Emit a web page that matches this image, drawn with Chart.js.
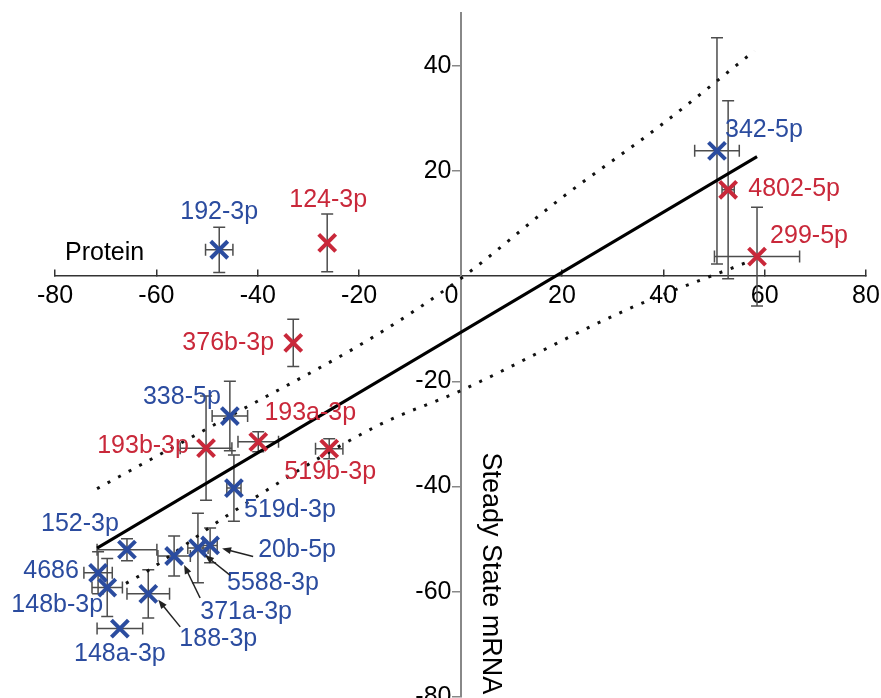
<!DOCTYPE html>
<html>
<head>
<meta charset="utf-8">
<script src="https://cdn.jsdelivr.net/npm/chart.js@4.4.0/dist/chart.umd.min.js"></script>
<style>
  html, body { margin: 0; padding: 0; background: #fff; }
</style>
</head>
<body>
<canvas id="chart" width="881" height="698"></canvas>
<script>
// axis ticks
const xTicks = [-80, -60, -40, -20, 0, 20, 40, 60, 80];
const yTicks = [-80, -60, -40, -20, 20, 40];

// blue miRNAs
const blueLabels = ["192-3p", "342-5p", "338-5p", "519d-3p", "152-3p", "4686", "148b-3p", "148a-3p", "188-3p", "371a-3p", "5588-3p", "20b-5p"];
const blueMrna = [-47.6, 50.6, -45.5, -44.7, -65.8, -71.5, -69.7, -67.2, -61.6, -56.5, -51.8, -49.4];
const blueProtein = [5.0, 23.8, -26.6, -40.3, -52.0, -56.4, -59.2, -67.0, -60.4, -53.2, -51.7, -51.2];
const blueMrnaErr = [2.7, 4.4, 3.5, 1.4, 5.9, 2.8, 3.0, 4.5, 4.2, 3.2, 2.0, 1.4];
const blueProteinErr = [4.3, 21.5, 6.6, 6.3, 2.1, 4.0, 5.5, 0, 4.6, 3.8, 6.6, 3.3];

// red miRNAs
const redLabels = ["124-3p", "4802-5p", "299-5p", "376b-3p", "193a-3p", "193b-3p", "519b-3p"];
const redMrna = [-26.3, 52.8, 58.5, -33.0, -39.9, -50.2, -25.9];
const redProtein = [6.3, 16.4, 3.7, -12.7, -31.5, -32.7, -32.8];
const redMrnaErr = [0, 1.2, 8.4, 0, 4.0, 5.1, 2.7];
const redProteinErr = [5.5, 16.9, 9.4, 4.5, 1.9, 9.9, 1.9];

// regression line and confidence band
const fitX = [-71.7, 58.5];
const fitY = [-51.7, 22.7];
const upperBandX = [-71.7, -44.3, -16.9, 0, 19.6, 39.3, 58.0];
const upperBandY = [-40.4, -26.0, -11.4, -0.5, 14.6, 28.5, 42.8];
const lowerBandX = [-66, -62, -46, -16.5, 0, 32.8, 57.5];
const lowerBandY = [-58.4, -56.2, -45.5, -28.5, -21.8, -6.4, 3.0];

// label placement (pixel offsets from the marker)
const blueLabelOffsets = [[0, -38], [47, -21], [-48, -19], [56, 22], [-47, -26], [-47, -2], [-50, 18], [0, 26], [70, 45], [72, 56], [75, 35], [87, 5]];
const redLabelOffsets = [[1, -43], [66, -1], [52, -20], [-65, 0], [52, -29], [-63, -2], [1, 23]];
// arrows: head dx, head dy, tail dx, tail dy
const blueArrows = {
  "188-3p": [10, 6, 32, 33],
  "371a-3p": [10, 9, 26, 42],
  "5588-3p": [7, 7, 32, 27],
  "20b-5p": [12, 3, 43, 11],
};

const BLUE = "#2b4c9f";
const RED = "#c9283a";
const FONT = "'Liberation Sans', Arial, Helvetica, sans-serif";

const toPoints = (xs, ys) => xs.map((x, i) => ({ x: x, y: ys[i] }));

const overlayPlugin = {
  id: "overlay",
  beforeDraw(chart) {
    // x "0" label sits left of the vertical axis, y labels clear of their ticks
    const xs = chart.scales.x;
    xs.getLabelItems().forEach((item, i) => {
      if (xs.ticks[i] && xs.ticks[i].value === 0 && !item.shifted) {
        item.options.translation[0] -= 9;
        item.shifted = true;
      }
    });
    chart.scales.y.getLabelItems().forEach((item) => {
      if (!item.shifted) {
        item.options.translation[0] -= 9;
        item.shifted = true;
      }
    });
  },
  beforeDatasetsDraw(chart) {
    const ctx = chart.ctx;
    const xs = chart.scales.x;
    const ys = chart.scales.y;
    const cap = 6;

    const drawErrors = (mx, py, ex, ey) => {
      mx.forEach((x, i) => {
        const cx = xs.getPixelForValue(x);
        const cy = ys.getPixelForValue(py[i]);
        ctx.save();
        ctx.strokeStyle = "#4d4d4d";
        ctx.lineWidth = 1.5;
        ctx.beginPath();
        if (ey[i] > 0) {
          const y1 = ys.getPixelForValue(py[i] + ey[i]);
          const y2 = ys.getPixelForValue(py[i] - ey[i]);
          ctx.moveTo(cx, y1); ctx.lineTo(cx, y2);
          ctx.moveTo(cx - cap, y1); ctx.lineTo(cx + cap, y1);
          ctx.moveTo(cx - cap, y2); ctx.lineTo(cx + cap, y2);
        }
        if (ex[i] > 0) {
          const x1 = xs.getPixelForValue(x - ex[i]);
          const x2 = xs.getPixelForValue(x + ex[i]);
          ctx.moveTo(x1, cy); ctx.lineTo(x2, cy);
          ctx.moveTo(x1, cy - cap); ctx.lineTo(x1, cy + cap);
          ctx.moveTo(x2, cy - cap); ctx.lineTo(x2, cy + cap);
        }
        ctx.stroke();
        ctx.restore();
      });
    };
    drawErrors(blueMrna, blueProtein, blueMrnaErr, blueProteinErr);
    drawErrors(redMrna, redProtein, redMrnaErr, redProteinErr);
  },
  afterDatasetsDraw(chart) {
    const ctx = chart.ctx;
    const xs = chart.scales.x;
    const ys = chart.scales.y;

    ctx.save();
    ctx.font = "25px " + FONT;
    ctx.textAlign = "center";
    ctx.textBaseline = "middle";

    const drawLabels = (names, mx, py, offsets, color) => {
      ctx.fillStyle = color;
      names.forEach((name, i) => {
        const cx = xs.getPixelForValue(mx[i]);
        const cy = ys.getPixelForValue(py[i]);
        ctx.fillText(name, cx + offsets[i][0], cy + offsets[i][1]);
      });
    };
    drawLabels(blueLabels, blueMrna, blueProtein, blueLabelOffsets, BLUE);
    drawLabels(redLabels, redMrna, redProtein, redLabelOffsets, RED);

    // pointer arrows
    ctx.strokeStyle = "#222";
    ctx.fillStyle = "#222";
    ctx.lineWidth = 1.5;
    blueLabels.forEach((name, i) => {
      const a = blueArrows[name];
      if (!a) return;
      const cx = xs.getPixelForValue(blueMrna[i]);
      const cy = ys.getPixelForValue(blueProtein[i]);
      const hx = cx + a[0], hy = cy + a[1];
      const tx = cx + a[2], ty = cy + a[3];
      const ang = Math.atan2(hy - ty, hx - tx);
      ctx.beginPath();
      ctx.moveTo(tx, ty);
      ctx.lineTo(hx - 5 * Math.cos(ang), hy - 5 * Math.sin(ang));
      ctx.stroke();
      ctx.beginPath();
      ctx.moveTo(hx, hy);
      ctx.lineTo(hx - 9 * Math.cos(ang) + 3.5 * Math.sin(ang), hy - 9 * Math.sin(ang) - 3.5 * Math.cos(ang));
      ctx.lineTo(hx - 9 * Math.cos(ang) - 3.5 * Math.sin(ang), hy - 9 * Math.sin(ang) + 3.5 * Math.cos(ang));
      ctx.closePath();
      ctx.fill();
    });

    // axis titles
    ctx.fillStyle = "#000";
    ctx.textAlign = "left";
    ctx.fillText("Protein", xs.getPixelForValue(-80) + 10, ys.getPixelForValue(0) - 23);

    ctx.font = "27px " + FONT;
    ctx.translate(xs.getPixelForValue(0) + 30, ys.getPixelForValue(-56.5));
    ctx.rotate(Math.PI / 2);
    ctx.textAlign = "center";
    ctx.fillText("Steady State mRNA", 0, 0);
    ctx.restore();
  },
};

const ctx = document.getElementById("chart");

new Chart(ctx, {
  type: "scatter",
  data: {
    datasets: [
      {
        label: "blue",
        data: toPoints(blueMrna, blueProtein),
        pointStyle: "crossRot",
        pointRadius: 12,
        pointBorderWidth: 4,
        borderColor: BLUE,
        backgroundColor: BLUE,
        order: 1,
      },
      {
        label: "red",
        data: toPoints(redMrna, redProtein),
        pointStyle: "crossRot",
        pointRadius: 12,
        pointBorderWidth: 4,
        borderColor: RED,
        backgroundColor: RED,
        order: 1,
      },
      {
        label: "fit",
        data: toPoints(fitX, fitY),
        showLine: true,
        pointRadius: 0,
        borderColor: "#000",
        borderWidth: 3,
        order: 2,
      },
      {
        label: "upper",
        data: toPoints(upperBandX, upperBandY),
        showLine: true,
        pointRadius: 0,
        borderColor: "#111",
        borderWidth: 3,
        borderDash: [3, 9],
        cubicInterpolationMode: "monotone",
        order: 3,
      },
      {
        label: "lower",
        data: toPoints(lowerBandX, lowerBandY),
        showLine: true,
        pointRadius: 0,
        borderColor: "#111",
        borderWidth: 3,
        borderDash: [3, 9],
        cubicInterpolationMode: "monotone",
        order: 3,
      },
    ],
  },
  options: {
    responsive: false,
    animation: false,
    layout: { autoPadding: false, padding: { left: 55, right: 15, top: 13, bottom: 1 } },
    plugins: { legend: { display: false }, tooltip: { enabled: false } },
    scales: {
      x: {
        type: "linear",
        min: -80,
        max: 80,
        position: { y: 0 },
        afterBuildTicks: (s) => { s.ticks = xTicks.map((v) => ({ value: v })); },
        afterFit: (s) => { s.height = 0; s.paddingLeft = 0; s.paddingRight = 0; },
        grid: { drawOnChartArea: false, drawTicks: true, tickLength: -7, color: "#333", lineWidth: 1.5 },
        border: { color: "#333", width: 1.5 },
        ticks: { padding: 12, color: "#000", font: { size: 25, family: FONT }, maxRotation: 0, autoSkip: false },
      },
      y: {
        type: "linear",
        min: -80,
        max: 50,
        position: { x: 0 },
        afterBuildTicks: (s) => { s.ticks = yTicks.map((v) => ({ value: v })); },
        afterFit: (s) => { s.width = 0; s.paddingTop = 0; s.paddingBottom = 0; },
        grid: { drawOnChartArea: false, drawTicks: true, tickLength: 8, color: "#888", lineWidth: 1.5 },
        border: { color: "#888", width: 2 },
        ticks: { padding: 1, color: "#000", font: { size: 25, family: FONT }, autoSkip: false },
      },
    },
  },
  plugins: [overlayPlugin],
});
</script>
</body>
</html>
